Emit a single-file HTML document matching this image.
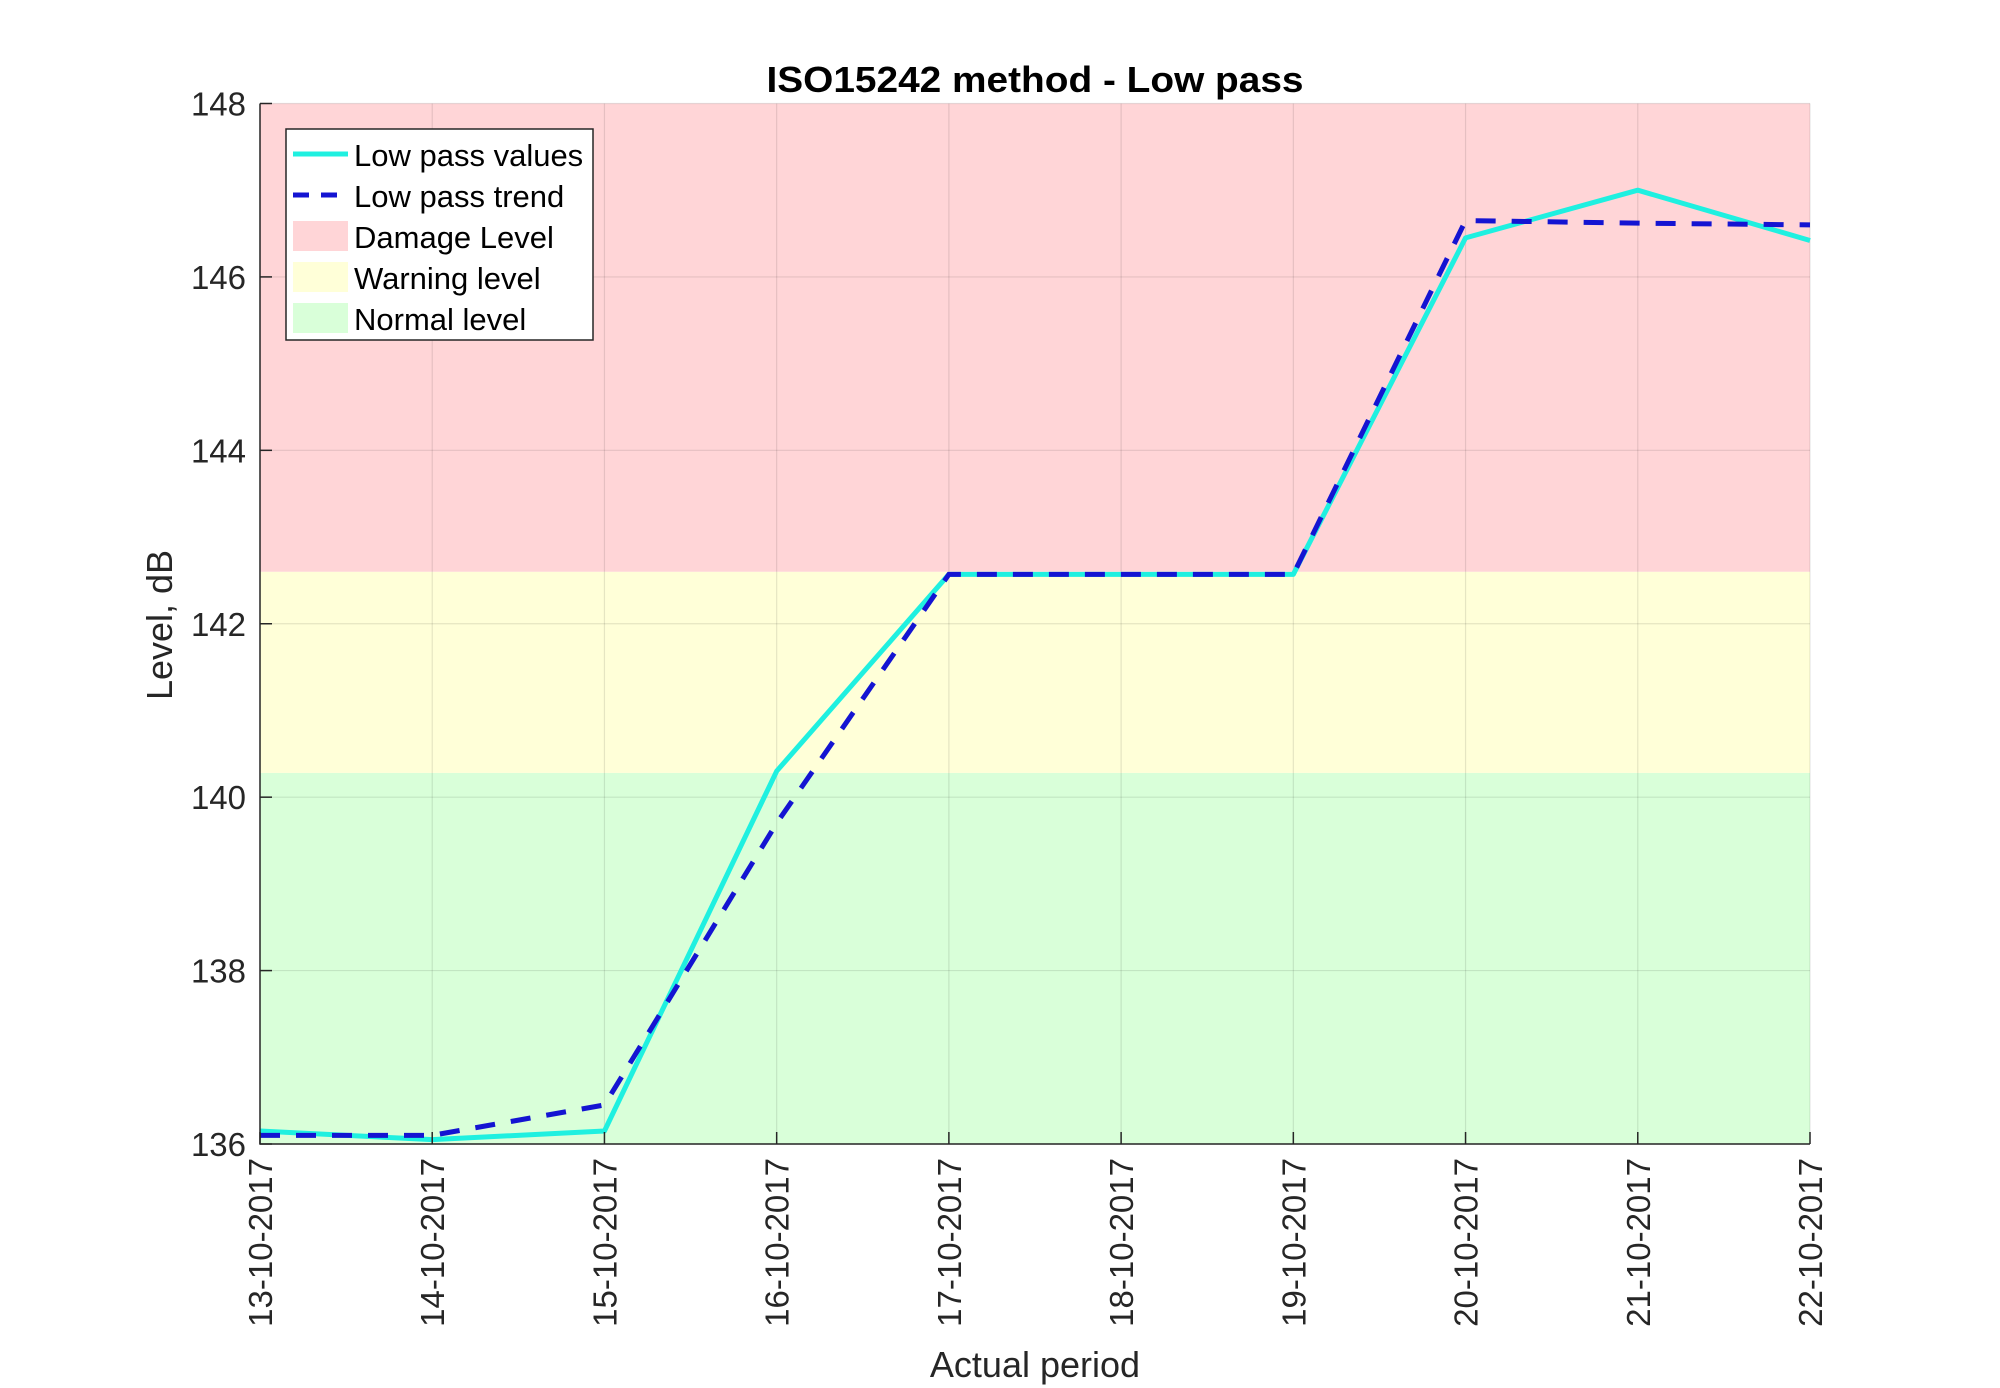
<!DOCTYPE html>
<html><head><meta charset="utf-8"><style>
html,body{margin:0;padding:0;background:#fff;}
svg{display:block;font-family:"Liberation Sans",Arial,sans-serif;}
</style></head><body>
<svg id="chart" width="2000" height="1388" viewBox="0 0 2000 1388" xmlns="http://www.w3.org/2000/svg">
<g id="zones"></g><g id="grid"></g><g id="series"></g><g id="axes"></g>
<text x="1035" y="92" text-anchor="middle" font-weight="bold" font-size="36" textLength="537" lengthAdjust="spacingAndGlyphs">ISO15242 method - Low pass</text>
<text x="1035" y="1377" text-anchor="middle" font-size="36" fill="#262626">Actual period</text>
<text transform="translate(172,625) rotate(-90)" text-anchor="middle" font-size="36" fill="#262626">Level, dB</text>
<g>
<rect x="286" y="129" width="307" height="211" fill="#fff" stroke="#262626" stroke-width="1.5"/>
<line x1="293" y1="154" x2="348" y2="154" stroke="#1ff0e0" stroke-width="5"/>
<text x="354" y="166" font-size="31">Low pass values</text>
<line x1="293" y1="195" x2="348" y2="195" stroke="#1414d2" stroke-width="5" stroke-dasharray="16,12"/>
<text x="354" y="207" font-size="31">Low pass trend</text>
<rect x="293" y="221" width="55" height="30" fill="#ffd5d7"/>
<text x="354" y="248" font-size="31">Damage Level</text>
<rect x="293" y="262" width="55" height="30" fill="#ffffd8"/>
<text x="354" y="289" font-size="31">Warning level</text>
<rect x="293" y="303" width="55" height="30" fill="#d9ffd9"/>
<text x="354" y="330" font-size="31">Normal level</text>
</g>
</svg>
<script>
const categories=["13-10-2017","14-10-2017","15-10-2017","16-10-2017","17-10-2017","18-10-2017","19-10-2017","20-10-2017","21-10-2017","22-10-2017"];
const valuesSeries=[136.15,136.05,136.15,140.3,142.57,142.57,142.57,146.45,147.0,146.42];
const trendSeries=[136.1,136.1,136.45,139.7,142.57,142.57,142.57,146.65,146.62,146.6];
const yTicks=[136,138,140,142,144,146,148];
const zoneBounds=[136,140.28,142.6,148];
const zoneColors=["#d9ffd9","#ffffd8","#ffd5d7"];
const zoneNames=["normal-zone","warning-zone","damage-zone"];
const L=260,R=1810,T=103.5,B=1144,yMin=136,yMax=148;
const NS="http://www.w3.org/2000/svg";
function xs(i){return L+i*(R-L)/(categories.length-1);}
function ys(v){return B-(v-yMin)*(B-T)/(yMax-yMin);}
function mk(tag,attrs,parent){const e=document.createElementNS(NS,tag);for(const k in attrs)e.setAttribute(k,attrs[k]);document.getElementById(parent).appendChild(e);return e;}
zoneColors.forEach((c,i)=>{
 const r=mk('rect',{x:L,y:ys(zoneBounds[i+1]),width:R-L,height:ys(zoneBounds[i])-ys(zoneBounds[i+1]),fill:c},'zones');
 
 
});
categories.forEach((c,i)=>{
 const g=mk('line',{x1:xs(i),x2:xs(i),y1:T,y2:B,stroke:'#000','stroke-opacity':0.1,'stroke-width':1.2},'grid');
 
 
 const t=mk('line',{x1:xs(i),x2:xs(i),y1:B,y2:B-12,stroke:'#262626','stroke-width':1.5},'axes');
 
 
 const lb=mk('text',{transform:`translate(${xs(i)+12},1158) rotate(-90)`,'text-anchor':'end','font-size':33,fill:'#262626'},'axes');
 lb.textContent=c;
 
 
});
yTicks.forEach(v=>{
 const g=mk('line',{x1:L,x2:R,y1:ys(v),y2:ys(v),stroke:'#000','stroke-opacity':0.1,'stroke-width':1.2},'grid');
 
 
 const t=mk('line',{x1:L,x2:L+12,y1:ys(v),y2:ys(v),stroke:'#262626','stroke-width':1.5},'axes');
 
 
 const lb=mk('text',{x:L-14,y:ys(v)+12,'text-anchor':'end','font-size':33,fill:'#262626'},'axes');
 lb.textContent=v;
 
 
});
const ax=mk('path',{d:`M${L},${T}V${B}H${R}`,fill:'none',stroke:'#262626','stroke-width':1.5},'axes');


const p1=mk('polyline',{points:valuesSeries.map((v,i)=>xs(i)+','+ys(v)).join(' '),fill:'none',stroke:'#1ff0e0','stroke-width':5,'stroke-linejoin':'round'},'series');


const p2=mk('polyline',{points:trendSeries.map((v,i)=>xs(i)+','+ys(v)).join(' '),fill:'none',stroke:'#1414d2','stroke-width':5,'stroke-dasharray':'20,16'},'series');


</script>
</body></html>
